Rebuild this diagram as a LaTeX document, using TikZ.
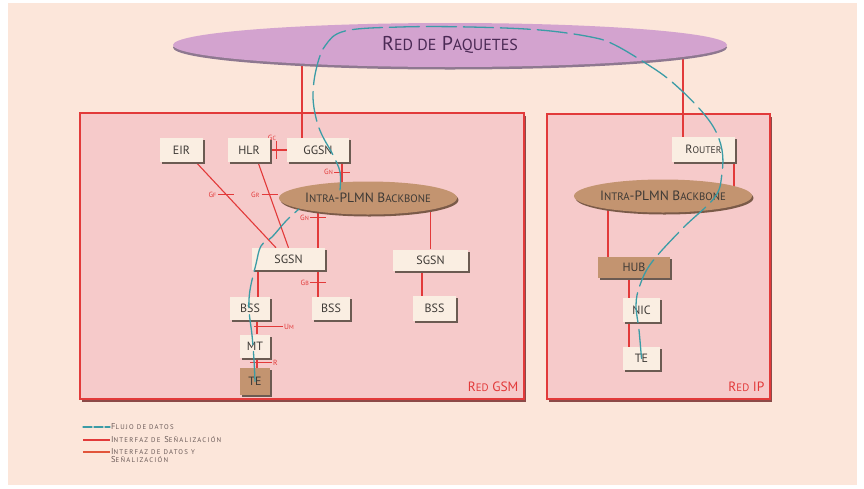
\documentclass[tikz,border=0pt]{standalone}
\usepackage{fontspec}
\setmainfont{PT Sans}
\usepackage{graphicx}
\usetikzlibrary{shapes.geometric,shadows}
\pgfdeclarelayer{back}
\pgfdeclarelayer{mid}
\pgfdeclarelayer{front}
\pgfsetlayers{back,mid,main,front}

% reduced capitals for the small-caps look
\newcommand\lc[1]{\scalebox{0.8}{#1}}

\definecolor{peach}{HTML}{FCE6DA}
\definecolor{netfill}{HTML}{F6CACA}
\definecolor{netshade}{HTML}{8C4A48}
\definecolor{redc}{HTML}{E23A3A}
\definecolor{orangec}{HTML}{E2553A}
\definecolor{cream}{HTML}{FAEEE2}
\definecolor{boxshade}{HTML}{6B5B52}
\definecolor{tanc}{HTML}{C39470}
\definecolor{tanshade}{HTML}{7A5A48}
\definecolor{lav}{HTML}{D3A3CF}
\definecolor{lavshade}{HTML}{8E7890}
\definecolor{purplec}{HTML}{4B2A55}
\definecolor{tealc}{HTML}{3B9CA6}
\definecolor{inkc}{HTML}{3E3A36}
\definecolor{leginkc}{HTML}{6A5A58}

\begin{document}
\begin{tikzpicture}[x=1pt,y=-1pt,
  unit/.style={fill=cream, text=inkc, inner sep=0pt,
    font=\fontsize{12}{12}\selectfont,
    drop shadow={shadow xshift=2pt,shadow yshift=-2pt,fill=boxshade,opacity=1}},
  tanunit/.style={unit, fill=tanc},
  backbone/.style={ellipse, fill=tanc, inner sep=0pt, text=inkc,
    font=\fontsize{13.5}{14}\selectfont,
    drop shadow={shadow xshift=1.5pt,shadow yshift=-2pt,fill=tanshade,opacity=1}},
  net/.style={draw=redc, line width=1.2pt, fill=netfill, inner sep=0pt,
    drop shadow={shadow xshift=2pt,shadow yshift=-2.5pt,fill=netshade,opacity=1}},
  netlabel/.style={text=redc, font=\fontsize{13.5}{14}\selectfont, inner sep=0pt, anchor=base east},
  sig/.style={draw=redc, line width=1.1pt},
  flow/.style={draw=tealc, line width=1.3pt, dash pattern=on 30pt off 7pt, line cap=round},
  iflab/.style={text=redc, font=\fontsize{7.5}{7.5}\selectfont, inner sep=1pt},
  leg/.style={text=leginkc, font=\fontsize{8.5}{9}\selectfont\addfontfeatures{LetterSpace=18},
    inner sep=1pt, anchor=west},
]
\useasboundingbox (0,0) rectangle (864,488);

% ---------- backdrop and the two networks ----------
\begin{pgfonlayer}{back}
  \fill[white] (0,0) rectangle (864,488);
  \fill[peach] (8,3) rectangle (857,485);
  \node[net, minimum width=444pt, minimum height=286pt] (gsm) at (302,256) {};
  \node[net, minimum width=223pt, minimum height=285pt] (ip) at (658.5,256.5) {};
\end{pgfonlayer}

\node[netlabel] (gsmlab) at ([xshift=-6pt,yshift=8pt]gsm.south east) {R\lc{ED} GSM};
\node[netlabel] (iplab) at ([xshift=-6pt,yshift=8pt]ip.south east) {R\lc{ED} IP};

% ---------- packet network ----------
\node[ellipse, fill=lav, minimum width=554pt, minimum height=44pt, inner sep=0pt,
      drop shadow={shadow xshift=0pt,shadow yshift=-2.5pt,fill=lavshade,opacity=1},
      text=purplec, font=\fontsize{20}{20}\selectfont] (paq) at (450,45)
      {R\lc{ED DE} P\lc{AQUETES}};

% ---------- GSM elements ----------
\node[unit, minimum width=43pt, minimum height=24pt] (eir) at (181.5,150) {EIR};
\node[unit, minimum width=42pt, minimum height=24pt] (hlr) at (249,150) {HLR};
\node[unit, minimum width=62pt, minimum height=24pt] (ggsn) at (318,150) {GGSN};
\node[backbone, minimum width=150pt, minimum height=33pt] (bbg) at (368,198)
      {I\lc{NTRA}-PLMN B\lc{ACKBONE}};
\node[unit, minimum width=73pt, minimum height=22pt] (sgsn) at (288.5,259) {SGSN};
\node[unit, minimum width=75pt, minimum height=21pt] (sgsnb) at (430.5,260) {SGSN};
\node[unit, minimum width=40pt, minimum height=23pt] (bssa) at (250,308.5) {BSS};
\node[unit, minimum width=38pt, minimum height=23pt] (bssb) at (331,308.5) {BSS};
\node[unit, minimum width=43pt, minimum height=25pt] (bssc) at (434.5,308.5) {BSS};
\node[unit, minimum width=30pt, minimum height=23pt] (mt) at (255,346) {MT};
\node[tanunit, minimum width=30pt, minimum height=27pt] (tegsm) at (255,381.5) {TE};

% ---------- IP elements ----------
\node[unit, minimum width=63pt, minimum height=25pt] (router) at (703.5,149.5) {R\lc{OUTER}};
\node[backbone, minimum width=177pt, minimum height=33pt] (bbip) at (663,196)
      {I\lc{NTRA}-PLMN B\lc{ACKBONE}};
\node[tanunit, minimum width=72pt, minimum height=21pt] (hub) at (634,267.5) {HUB};
\node[unit, minimum width=37pt, minimum height=24pt] (nic) at (641.5,310) {NIC};
\node[unit, minimum width=37pt, minimum height=23pt] (teip) at (641.5,358.5) {TE};

% ---------- signalling interfaces ----------
\begin{pgfonlayer}{mid}
  \draw[sig] ([xshift=-16pt]ggsn.north) -- ([xshift=-16pt]ggsn.north |- paq.center);
  \draw[sig] ([xshift=-20.5pt]router.north) -- ([xshift=-20.5pt]router.north |- paq.center);

  % Gc
  \draw[sig] (hlr) -- coordinate[pos=0.36] (tgc) (ggsn);
  \draw[sig] ([yshift=9pt]tgc) -- ([yshift=-9pt]tgc);
  \node[iflab, anchor=south east] (lgc) at ([yshift=8pt,xshift=1pt]tgc) {G\lc{C}};

  % Gn towards the GGSN
  \draw[sig] ([xshift=24pt]ggsn.south) -- coordinate[pos=0.28] (tgna)
             ([xshift=24pt]ggsn.south |- bbg.center);
  \draw[sig] ([xshift=-8pt]tgna) -- ([xshift=8pt]tgna);
  \node[iflab, anchor=east] (lgna) at ([xshift=-8pt]tgna) {G\lc{N}};

  % Gf
  \draw[sig] ([xshift=14.5pt]eir.south) -- coordinate[pos=0.38] (tgf) ([xshift=-12.5pt]sgsn.north);
  \draw[sig] ([xshift=-8pt]tgf) -- ([xshift=8pt]tgf);
  \node[iflab, anchor=east] (lgf) at ([xshift=-9pt]tgf) {G\lc{F}};

  % Gr
  \draw[sig] ([xshift=9pt]hlr.south) -- coordinate[pos=0.38] (tgr) (sgsn.north);
  \draw[sig] ([xshift=-8pt]tgr) -- ([xshift=8pt]tgr);
  \node[iflab, anchor=east] (lgr) at ([xshift=-9pt]tgr) {G\lc{R}};

  % Gn towards the SGSN
  \draw[sig] ([xshift=29.5pt]sgsn.north) -- coordinate[pos=0.6] (tgnb)
             ([xshift=29.5pt]sgsn.north |- bbg.center);
  \draw[sig] ([xshift=-8pt]tgnb) -- ([xshift=8pt]tgnb);
  \node[iflab, anchor=east] (lgnb) at ([xshift=-8pt]tgnb) {G\lc{N}};

  \draw[sig] (sgsnb.north) -- (sgsnb.north |- bbg.center);
  \draw[sig] ([xshift=8pt]bssa.north) -- ([xshift=8pt]bssa.north |- sgsn.center);

  % Gb
  \draw[sig] ([xshift=-13pt]bssb.north) -- coordinate[pos=0.37] (tgb)
             ([xshift=-13pt]bssb.north |- sgsn.center);
  \draw[sig] ([xshift=-8pt]tgb) -- ([xshift=8pt]tgb);
  \node[iflab, anchor=east] (lgb) at ([xshift=-8pt]tgb) {G\lc{B}};

  \draw[sig] ([xshift=-12.5pt]bssc.north) -- ([xshift=-12.5pt]bssc.north |- sgsnb.center);

  % Um
  \draw[sig] ([xshift=2pt]mt.north) -- coordinate[pos=0.29] (tum)
             ([xshift=2pt]mt.north |- bssa.center);
  \draw[sig] ([xshift=-3pt]tum) -- ([xshift=26pt]tum);
  \node[iflab, anchor=west] (lum) at ([xshift=26pt]tum) {U\lc{M}};

  % R
  \draw[sig] ([xshift=2pt]tegsm.north) -- coordinate[pos=0.23] (tr)
             ([xshift=2pt]tegsm.north |- mt.center);
  \draw[sig] ([xshift=-7pt]tr) -- ([xshift=15pt]tr);
  \node[iflab, anchor=west] (lr) at ([xshift=15pt]tr) {R};

  % IP side
  \draw[sig] ([xshift=30.5pt]router.south) -- ([xshift=30.5pt]router.south |- bbip.center);
  \draw[sig] ([xshift=-26pt]hub.north) -- ([xshift=-26pt]hub.north |- bbip.center);
  \draw[sig] ([xshift=-12.5pt]nic.north) -- ([xshift=-12.5pt]nic.north |- hub.center);
  \draw[sig] ([xshift=-12.5pt]teip.north) -- ([xshift=-12.5pt]teip.north |- nic.center);
\end{pgfonlayer}

% ---------- data flow ----------
\begin{pgfonlayer}{front}
  \draw[flow] plot[smooth, tension=0.6] coordinates {
    (tegsm.center) (254,360) (252,335) (249,310) (250,290) (256,264)
    (261,246) (272,237) (286,221) (299,209)};
  \draw[flow] plot[smooth, tension=0.6] coordinates {
    (340,190) (340,172) (333,155) (322,135) (316,118) (313,96) (316,70)
    (325,46) (345,31) (400,27) (470,27) (540,30) (591,37) (615,45)
    (650,66) (672,82) (697,106) (714,128) (722,150) (722,173) (715,197)
    (683,228) (652,262) (640,285) (636,305) (639,330) (teip.center)};
\end{pgfonlayer}

% ---------- legend ----------
\coordinate (fa) at (83,427);  \coordinate (fb) at (110,427);
\coordinate (sa) at (83,440);  \coordinate (sb) at (110,440);
\coordinate (da) at (83,452);  \coordinate (db) at (110,452);
\draw[flow, dash pattern=on 9pt off 2pt, line width=1.2pt] (fa) -- (fb);
\draw[sig, line width=1.3pt] (sa) -- (sb);
\draw[sig, draw=orangec, line width=1.3pt] (da) -- (db);
\node[leg] (lfa) at (fb) {F\lc{LUJO DE DATOS}};
\node[leg] (lsa) at (sb) {I\lc{NTERFAZ DE} S\lc{EÑALIZACIÓN}};
\node[leg] (lda) at (db) {I\lc{NTERFAZ DE DATOS Y}};
\node[leg, anchor=north west] (ldb) at ([yshift=1pt]lda.south west) {S\lc{EÑALIZACIÓN}};

\end{tikzpicture}
\end{document}
